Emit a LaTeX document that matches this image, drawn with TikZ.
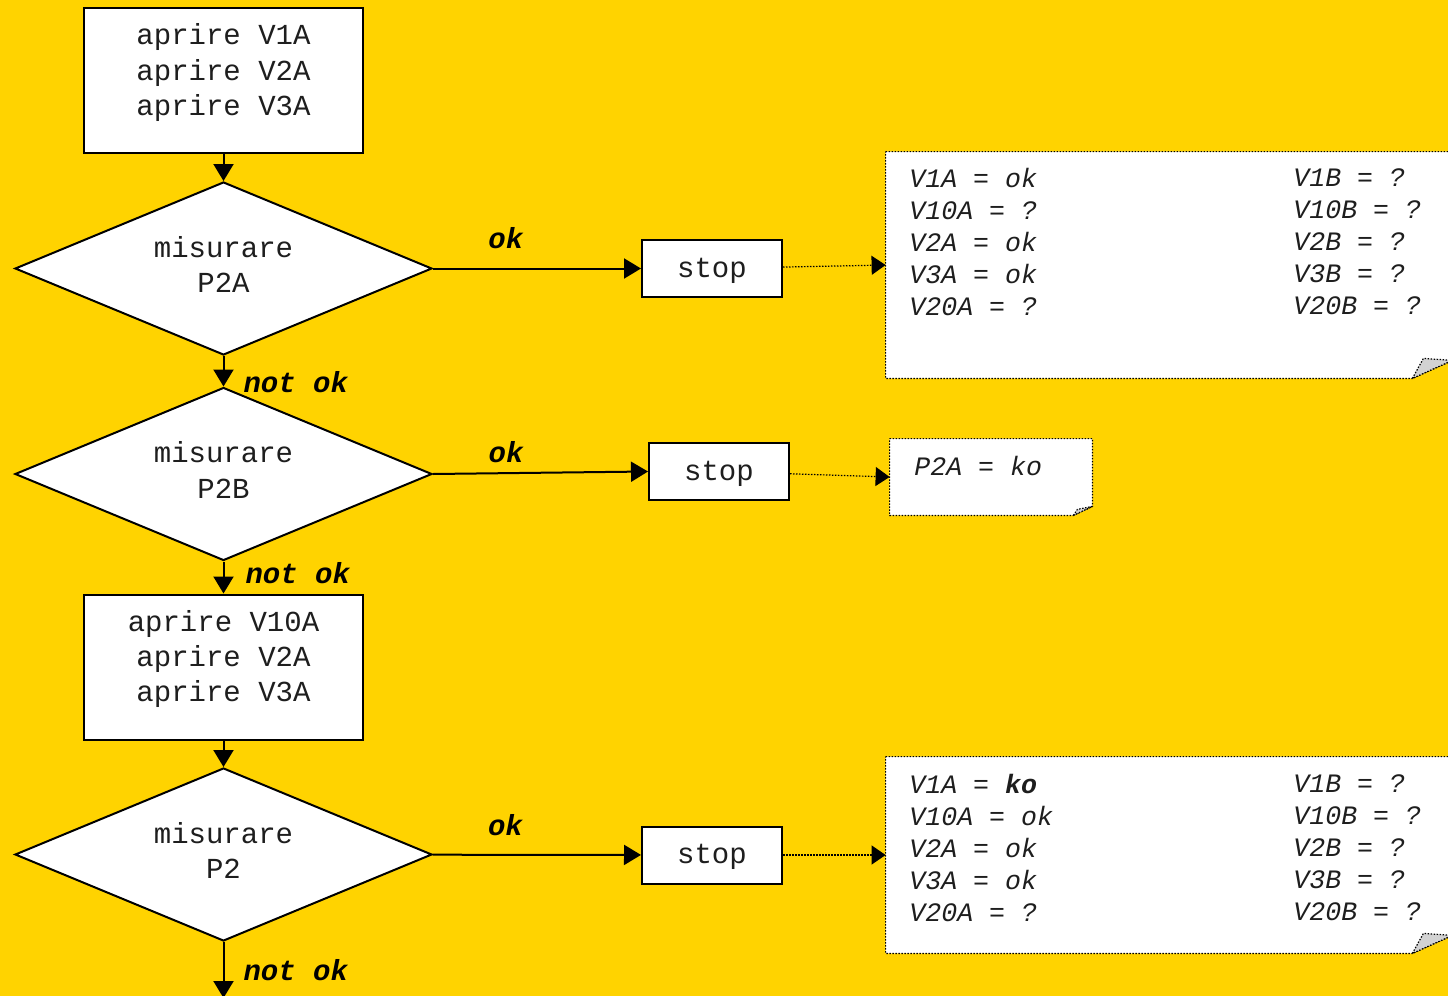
\documentclass[tikz,border=0pt]{standalone}
\usepackage{fontspec}
\newfontfamily\mono{Liberation Mono}
\usetikzlibrary{arrows.meta,shapes.geometric,calc}
\definecolor{bg}{RGB}{255,211,0}
\definecolor{foldgrey}{RGB}{210,210,210}
\definecolor{ink}{RGB}{30,30,30}
\begin{document}
\begin{tikzpicture}[x=0.5pt,y=-0.5pt,
  maintext/.style={font=\mono\fontsize{14.5}{17.6}\selectfont, text=ink, align=center, inner sep=0pt},
  notetext/.style={font=\mono\itshape\fontsize{13.3}{16}\selectfont, text=ink, align=left, inner sep=0pt, anchor=west},
  lab/.style={font=\mono\bfseries\itshape\fontsize{14.5}{18}\selectfont, inner sep=0pt},
  flowbox/.style={draw, fill=white, line width=1pt, minimum width=139.5pt, minimum height=72.5pt, inner sep=0pt},
  dia/.style={diamond, draw, fill=white, line width=1pt, minimum width=208.5pt, minimum height=86.5pt, aspect=2.41, inner sep=0pt},
  stopbox/.style={draw, fill=white, line width=1pt, minimum width=70pt, minimum height=28.5pt, inner sep=0pt},
  notebox/.style={draw=none, inner sep=0pt},
  notedraw/.style={line width=0.6pt, dash pattern=on 0.75pt off 0.75pt},
  flow/.style={line width=1pt, -{Triangle[length=8.5pt,width=10pt]}},
  dotarrow/.style={line width=0.6pt, dash pattern=on 0.75pt off 0.75pt, -{Triangle[length=7pt,width=9.5pt]}}
]
\useasboundingbox[fill=bg] (0,0) rectangle (1448,996);

% notes (background shapes)
\node[notebox, minimum width=283pt, minimum height=113pt] (n1) at (1169,265) {};
\node[notebox, minimum width=101pt, minimum height=38pt] (n2) at (991,477) {};
\node[notebox, minimum width=283pt, minimum height=98pt] (n3) at (1169,855) {};

\foreach \n/\cx/\cy/\fx/\fy in {n1/40/18/29/20, n3/40/18/29/20, n2/19/9/15/6} {
  \filldraw[notedraw, fill=white] (\n.north west) -- (\n.north east) -- ($(\n.south east)+(0,-\cy)$) -- ($(\n.south east)+(-\cx,0)$) -- (\n.south west) -- cycle;
  \filldraw[notedraw, fill=foldgrey] ($(\n.south east)+(-\cx,0)$) -- ($(\n.south east)+(-\fx,-\fy)$) -- ($(\n.south east)+(0,-\cy)$) -- cycle;
}

% note texts
\node[notetext] (n1a) at (909,242) {V1A = ok\\V10A = ?\\V2A = ok\\V3A = ok\\V20A = ?};
\node[notetext] (n1b) at (1293,242) {V1B = ?\\V10B = ?\\V2B = ?\\V3B = ?\\V20B = ?};
\node[notetext] (n2a) at (914,466) {P2A = ko};
\node[notetext] (n3a) at (909,848) {V1A = {\bfseries ko}\\V10A = ok\\V2A = ok\\V3A = ok\\V20A = ?};
\node[notetext] (n3b) at (1293,848) {V1B = ?\\V10B = ?\\V2B = ?\\V3B = ?\\V20B = ?};

% flow nodes
\node[flowbox] (b1) at (223.5,80.5) {};
\node[maintext] (b1t) at ($(b1)+(0,-8)$) {aprire V1A\\aprire V2A\\aprire V3A};
\node[dia] (d1) at (223.5,268.5) {};
\node[maintext] (d1t) at ($(d1)+(0,-4)$) {misurare\\P2A};
\node[stopbox] (s1) at (712,268.5) {};
\node[maintext] (s1t) at ($(s1)+(0,2)$) {stop};
\node[dia] (d2) at (223.5,474) {};
\node[maintext] (d2t) at ($(d2)+(0,-4)$) {misurare\\P2B};
\node[stopbox] (s2) at (719,471.5) {};
\node[maintext] (s2t) at ($(s2)+(0,2)$) {stop};
\node[flowbox] (b2) at (223.5,667) {};
\node[maintext] (b2t) at ($(b2)+(0,-8)$) {aprire V10A\\aprire V2A\\aprire V3A};
\node[dia] (d3) at (223.5,854.5) {};
\node[maintext] (d3t) at ($(d3)+(0,-4)$) {misurare\\P2};
\node[stopbox] (s3) at (712,855) {};
\node[maintext] (s3t) at ($(s3)+(0,2)$) {stop};
\coordinate (end) at (223.5,998);

% connectors
\draw[flow] (b1) -- (d1);
\draw[flow] (d1) -- node[lab, pos=0.35, yshift=15pt] (l1) {ok} (s1);
\draw[flow] (d1) -- node[lab, pos=0.85, anchor=west, xshift=9.5pt] (l2) {not ok} (d2);
\draw[flow] (d2.east) -- node[lab, pos=0.34, yshift=10.5pt] (l3) {ok} (s2.west);
\draw[flow] (d2) -- node[lab, pos=0.37, anchor=west, xshift=10.5pt] (l4) {not ok} (b2);
\draw[flow] (b2) -- (d3);
\draw[flow] (d3) -- node[lab, pos=0.35, yshift=15pt] (l5) {ok} (s3);
\draw[flow] (d3) -- node[lab, pos=0.51, anchor=west, xshift=9.5pt] (l6) {not ok} (end);

\draw[dotarrow] (s1) -- (n1.west);
\draw[dotarrow] (s2) -- (n2.west);
\draw[dotarrow] (s3) -- (n3.west);
\end{tikzpicture}
\end{document}
